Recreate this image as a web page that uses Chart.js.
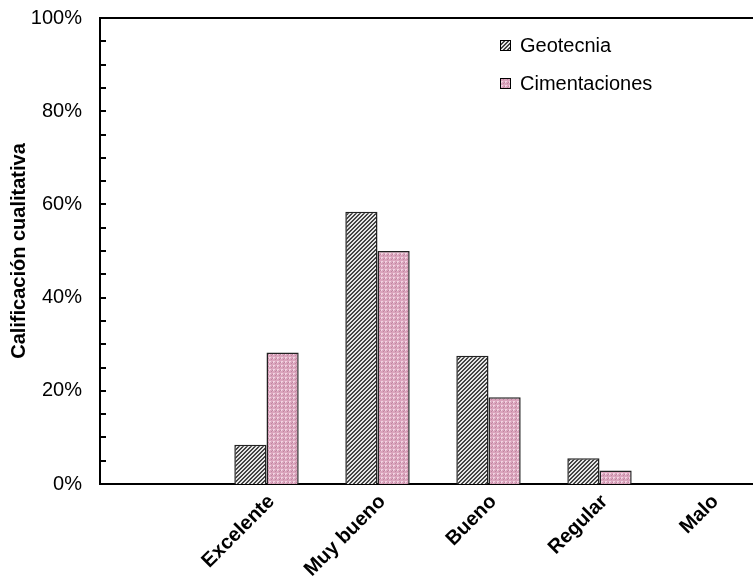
<!DOCTYPE html>
<html>
<head>
<meta charset="utf-8">
<script src="https://cdn.jsdelivr.net/npm/chart.js@4.4.1/dist/chart.umd.min.js"></script>
<style>
  html, body { margin: 0; padding: 0; background: #fff; overflow: hidden; }
  #wrap { width: 770px; height: 577px; }
</style>
</head>
<body>
<div id="wrap"><canvas id="c" width="770" height="577"></canvas></div>
<script>
  // categorías (la primera queda vacía, como en el original)
  var categorias = ['', 'Excelente', 'Muy bueno', 'Bueno', 'Regular', 'Malo'];
  var geotecnia = [null, 8.4, 58.4, 27.5, 5.5, 0];
  var cimentaciones = [null, 28.2, 50.0, 18.6, 2.9, 0];
  var yTicks = [0, 20, 40, 60, 80, 100];

  var FONT = '"Liberation Sans", Arial, sans-serif';

  function makePattern(w, h, paint) {
    var cv = document.createElement('canvas');
    cv.width = w;
    cv.height = h;
    var g = cv.getContext('2d');
    paint(g);
    return document.getElementById('c').getContext('2d').createPattern(cv, 'repeat');
  }

  // rayado diagonal gris
  var hatchGray = makePattern(4, 4, function (g) {
    for (var x = 0; x < 4; x++) {
      for (var y = 0; y < 4; y++) {
        g.fillStyle = ((x + y) % 4 < 2) ? '#444' : '#e6e6e6';
        g.fillRect(x, y, 1, 1);
      }
    }
  });

  // punteado rosa
  var dotPink = makePattern(4, 4, function (g) {
    g.fillStyle = '#dba5bd';
    g.fillRect(0, 0, 4, 4);
    g.fillStyle = '#f2d4e2';
    g.fillRect(1, 1, 2, 1);
    g.fillRect(1, 2, 1, 1);
    g.fillStyle = '#bf86a0';
    g.fillRect(3, 3, 1, 1);
    g.fillRect(0, 2, 1, 1);
  });

  // marcas menores hacia dentro + borde superior
  var axisDeco = {
    id: 'axisDeco',
    afterDraw: function (chart) {
      var ctx = chart.ctx;
      var y = chart.scales.y;
      var area = chart.chartArea;
      ctx.save();
      ctx.strokeStyle = '#000';
      ctx.lineWidth = 2;
      for (var v = 0; v <= 100; v += 5) {
        var py = Math.round(y.getPixelForValue(v));
        ctx.beginPath();
        ctx.moveTo(area.left, py);
        ctx.lineTo(area.left + 6, py);
        ctx.stroke();
      }
      ctx.beginPath();
      ctx.moveTo(area.left - 1, area.top);
      ctx.lineTo(area.right, area.top);
      ctx.stroke();
      ctx.restore();
    }
  };

  // leyenda dentro del área
  var insideLegend = {
    id: 'insideLegend',
    afterDraw: function (chart) {
      var ctx = chart.ctx;
      var x0 = 500, y0 = 45, gap = 38;
      ctx.save();
      ctx.font = '20px ' + FONT;
      ctx.textBaseline = 'middle';
      chart.data.datasets.forEach(function (ds, i) {
        var yy = y0 + i * gap;
        ctx.fillStyle = ds.backgroundColor;
        ctx.fillRect(x0, yy - 5, 11, 11);
        ctx.strokeStyle = '#000';
        ctx.lineWidth = 1;
        ctx.strokeRect(x0 + 0.5, yy - 4.5, 10, 10);
        ctx.fillStyle = '#000';
        ctx.fillText(ds.label, x0 + 20, yy + 1);
      });
      ctx.restore();
    }
  };

  new Chart(document.getElementById('c'), {
    type: 'bar',
    data: {
      labels: categorias,
      datasets: [
        {
          label: 'Geotecnia',
          data: geotecnia,
          backgroundColor: hatchGray,
          borderColor: '#222',
          borderWidth: 1.5,
          borderSkipped: 'bottom'
        },
        {
          label: 'Cimentaciones',
          data: cimentaciones,
          backgroundColor: dotPink,
          borderColor: '#222',
          borderWidth: 1.5,
          borderSkipped: 'bottom'
        }
      ]
    },
    options: {
      responsive: false,
      animation: false,
      datasets: {
        bar: { categoryPercentage: 0.58, barPercentage: 1.0 }
      },
      layout: { padding: { top: 18, right: 4, left: 0, bottom: 0 } },
      plugins: {
        legend: { display: false },
        tooltip: { enabled: false }
      },
      scales: {
        x: {
          grid: { display: false },
          border: { display: true, color: '#000', width: 2 },
          ticks: {
            color: '#000',
            font: { family: FONT, size: 20, weight: 'bold' },
            minRotation: 45,
            maxRotation: 45,
            autoSkip: false,
            padding: -2,
            labelOffset: 5
          },
          afterFit: function (s) {
            s.height = 93;
            s.paddingLeft = 0;
            s.paddingRight = 0;
          }
        },
        y: {
          min: 0,
          max: 100,
          afterBuildTicks: function (s) {
            s.ticks = yTicks.map(function (v) { return { value: v }; });
          },
          grid: { display: false, drawTicks: false },
          border: { display: true, color: '#000', width: 2 },
          ticks: {
            color: '#000',
            font: { family: FONT, size: 20 },
            padding: 18,
            callback: function (v) { return v + '%'; }
          },
          title: {
            display: true,
            text: 'Calificación cualitativa',
            color: '#000',
            font: { family: FONT, size: 20, weight: 'bold' },
            padding: { top: 7, bottom: 0 }
          },
          afterFit: function (s) {
            s.width = 100;
            s.paddingTop = 0;
            s.paddingBottom = 0;
          }
        }
      }
    },
    plugins: [axisDeco, insideLegend]
  });
</script>
</body>
</html>
